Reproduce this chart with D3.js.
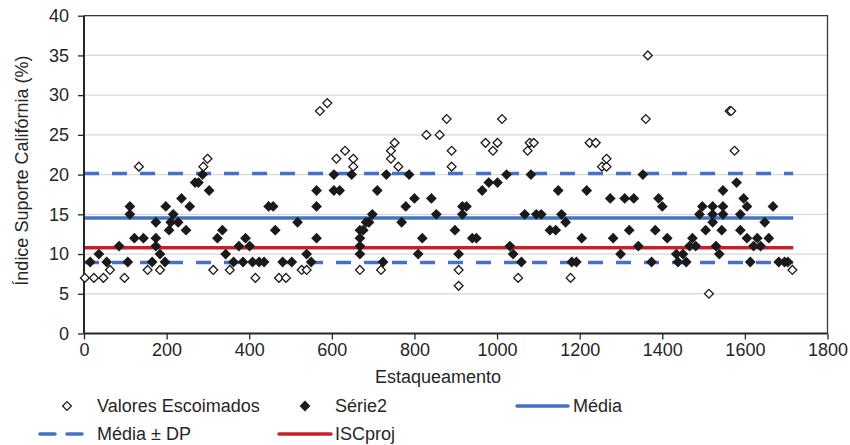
<!DOCTYPE html>
<html>
<head>
<meta charset="utf-8">
<script src="https://cdn.jsdelivr.net/npm/d3@7"></script>
<style>
  html, body { margin: 0; padding: 0; background: #fff; }
  svg { display: block; font-family: "Liberation Sans", Arial, sans-serif; }
</style>
</head>
<body>
<svg id="chart" width="850" height="445"></svg>
<script>
// ---- data ----
const xTicks = [0, 200, 400, 600, 800, 1000, 1200, 1400, 1600, 1800];
const yTicks = [0, 5, 10, 15, 20, 25, 30, 35, 40];

// Valores Escoimados (open diamonds): [estaca, ISC]
const escoimados = [
  [2,7],[24,7],[47,7],[63,8],[98,7],[133,21],[154,8],[184,8],[289,21],[299,22],
  [313,8],[353,8],[415,7],[472,7],[489,7],[527,8],[539,8],[571,28],[589,29],[611,22],
  [632,23],[652,22],[652,21],[668,8],[719,8],[743,23],[752,24],[743,22],[761,21],[829,25],
  [861,25],[878,27],[890,23],[890,21],[907,8],[907,6],[972,24],[990,23],[1001,24],[1012,27],
  [1051,7],[1074,23],[1079,24],[1089,24],[1178,7],[1224,24],[1239,24],[1254,21],[1265,21],[1265,22],
  [1360,27],[1365,35],[1513,5],[1563,28],[1567,28],[1575,23],[1715,8]
];

// Série2 (filled diamonds): [estaca, ISC]
const serie2 = [
  [15,9],[36,10],[55,9],[85,11],[106,9],[111,16],[111,15],[122,12],[144,12],[165,9],
  [174,14],[174,12],[174,11],[184,10],[196,9],[198,16],[206,13],[210,14],[216,15],[228,14],
  [236,17],[247,13],[256,16],[269,19],[277,19],[287,20],[303,18],[323,12],[335,13],[343,10],
  [362,9],[375,11],[385,9],[391,12],[401,11],[408,9],[424,9],[436,9],[447,16],[458,16],
  [463,13],[481,9],[503,9],[517,14],[539,10],[550,9],[563,18],[563,16],[563,12],[605,20],
  [605,18],[619,18],[648,20],[668,13],[668,12],[668,11],[668,10],[676,13],[683,14],[690,14],
  [698,15],[710,18],[724,9],[732,20],[769,14],[779,16],[787,20],[800,17],[809,10],[819,12],
  [841,17],[853,15],[898,13],[907,10],[916,16],[916,15],[926,16],[940,12],[950,12],[964,18],
  [980,19],[1001,19],[1023,20],[1031,11],[1039,10],[1059,9],[1067,15],[1082,20],[1095,15],[1107,15],
  [1128,13],[1142,13],[1148,18],[1156,15],[1166,14],[1181,9],[1192,9],[1205,12],[1217,18],[1274,17],
  [1281,12],[1299,10],[1309,17],[1320,13],[1331,17],[1342,11],[1353,20],[1374,9],[1383,13],[1391,17],
  [1400,16],[1412,12],[1434,10],[1438,9],[1450,10],[1458,9],[1466,11],[1473,12],[1481,11],[1490,15],
  [1497,16],[1505,13],[1522,16],[1522,15],[1522,14],[1530,11],[1538,10],[1544,13],[1547,18],[1547,16],
  [1547,15],[1580,19],[1589,15],[1589,13],[1597,17],[1605,16],[1605,12],[1613,9],[1621,11],[1630,12],
  [1638,11],[1648,14],[1658,12],[1668,16],[1682,9],[1696,9],[1704,9]
];

const lineExtent = [0, 1717];
const media = 14.55;
const mediaMenosDP = 8.95;
const mediaMaisDP = 20.15;
const iscProj = 10.8;

const legendLabels = ["Valores Escoimados", "Série2", "Média", "Média ± DP", "ISCproj"];

// ---- drawing ----
const svg = d3.select("#chart");
const x = d3.scaleLinear().domain([0, 1800]).range([84, 827.5]);
const y = d3.scaleLinear().domain([0, 40]).range([333.5, 15.7]);

const textColor = "#262626";
const blue = "#4472C4";
const red = "#C8202B";

// gridlines
svg.append("g").selectAll("line").data(yTicks.filter(d => d > 0)).join("line")
  .attr("x1", x(0)).attr("x2", x(1800))
  .attr("y1", d => y(d)).attr("y2", d => y(d))
  .attr("stroke", "#d9d9d9").attr("stroke-width", 1.3);

// plot frame (top/right)
svg.append("path")
  .attr("d", `M${x(0)},${y(40)}H${x(1800)}V${y(0)}`)
  .attr("fill", "none").attr("stroke", "#3a3a3a").attr("stroke-width", 1.3);

// reference lines
const refLine = (val, color, dash, w) => svg.append("line")
  .attr("x1", x(lineExtent[0])).attr("x2", x(lineExtent[1]))
  .attr("y1", y(val)).attr("y2", y(val))
  .attr("stroke", color).attr("stroke-width", w)
  .attr("stroke-dasharray", dash || null);
refLine(mediaMaisDP, blue, "15,13", 3.5);
refLine(mediaMenosDP, blue, "15,13", 3.5);
refLine(media, blue, null, 3.5);
refLine(iscProj, red, null, 3.5);

// axes
const xAxis = d3.axisBottom(x).tickValues(xTicks).tickSize(6).tickPadding(4).tickFormat(d3.format("d"));
const gx = svg.append("g").attr("transform", `translate(0,${y(0)})`).call(xAxis);
const yAxis = d3.axisLeft(y).tickValues(yTicks).tickSize(6).tickPadding(9);
const gy = svg.append("g").attr("transform", `translate(${x(0)},0)`).call(yAxis);
[gx, gy].forEach(g => {
  g.select(".domain").attr("stroke", "#262626").attr("stroke-width", 2);
  g.selectAll(".tick line").attr("stroke", "#262626").attr("stroke-width", 1.3);
  g.selectAll(".tick text").attr("fill", textColor).attr("font-size", 18)
    .attr("font-family", "Liberation Sans, Arial, sans-serif");
});
gx.select(".domain").attr("d", `M${x(0)},0H${x(1800)}`);
gy.select(".domain").attr("d", `M0,${y(0)}V${y(40)}`);

// diamond path
const diamond = r => `M0,${-r}L${r},0L0,${r}L${-r},0Z`;

// markers
svg.append("g").selectAll("path").data(serie2).join("path")
  .attr("transform", d => `translate(${x(d[0])},${y(d[1])})`)
  .attr("d", diamond(5.4)).attr("fill", "#1a1a1a");
svg.append("g").selectAll("path").data(escoimados).join("path")
  .attr("transform", d => `translate(${x(d[0])},${y(d[1])})`)
  .attr("d", diamond(4.4)).attr("fill", "#fff").attr("stroke", "#1a1a1a").attr("stroke-width", 1.3);

// axis titles
svg.append("text").attr("x", 438).attr("y", 383).attr("text-anchor", "middle")
  .attr("font-size", 18).attr("fill", textColor).text("Estaqueamento");
svg.append("text").attr("transform", `translate(28,${(y(0) + y(40)) / 2 - 4}) rotate(-90)`)
  .attr("text-anchor", "middle").attr("font-size", 18).attr("fill", textColor)
  .text("Índice Suporte Califórnia (%)");

// legend
const lg = svg.append("g").attr("font-size", 18).attr("fill", textColor);
const r1 = 406, r2 = 434;
lg.append("path").attr("transform", `translate(67,${r1})`).attr("d", diamond(4.4))
  .attr("fill", "#fff").attr("stroke", "#1a1a1a").attr("stroke-width", 1.3);
lg.append("text").attr("x", 97).attr("y", r1 + 6).text(legendLabels[0]);
lg.append("path").attr("transform", `translate(305,${r1})`).attr("d", diamond(5.4)).attr("fill", "#1a1a1a");
lg.append("text").attr("x", 335).attr("y", r1 + 6).text(legendLabels[1]);
lg.append("line").attr("x1", 517).attr("x2", 568).attr("y1", r1).attr("y2", r1)
  .attr("stroke", blue).attr("stroke-width", 3.5).attr("stroke-linecap", "round");
lg.append("text").attr("x", 573).attr("y", r1 + 6).text(legendLabels[2]);
lg.append("line").attr("x1", 40).attr("x2", 83).attr("y1", r2).attr("y2", r2)
  .attr("stroke", blue).attr("stroke-width", 3.5).attr("stroke-dasharray", "15,12").attr("stroke-linecap", "round");
lg.append("text").attr("x", 97).attr("y", r2 + 6).text(legendLabels[3]);
lg.append("line").attr("x1", 279).attr("x2", 331).attr("y1", r2).attr("y2", r2)
  .attr("stroke", red).attr("stroke-width", 3.5).attr("stroke-linecap", "round");
lg.append("text").attr("x", 335).attr("y", r2 + 6).text(legendLabels[4]);
</script>
</body>
</html>
